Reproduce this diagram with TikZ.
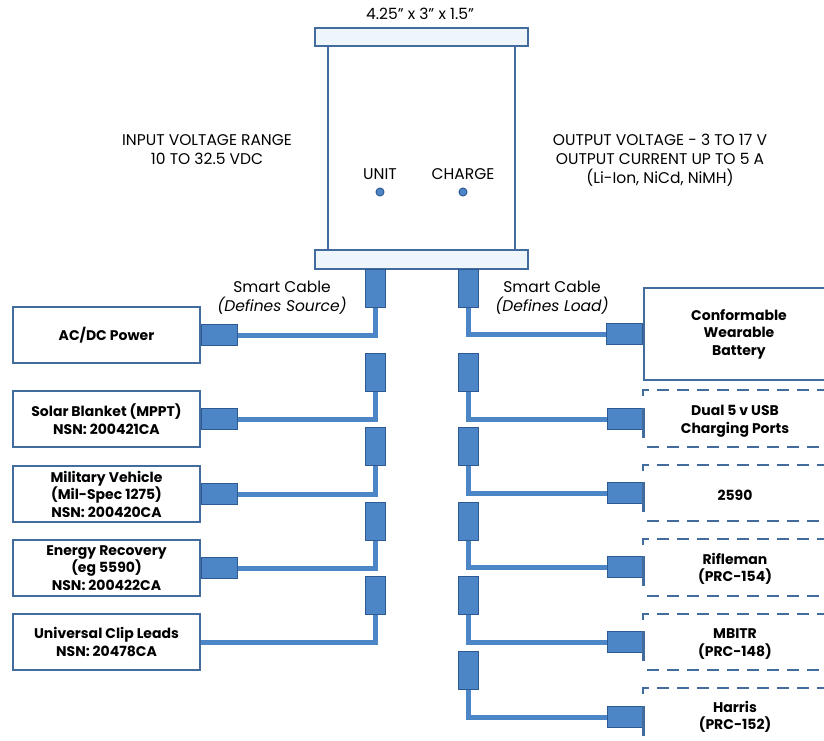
\documentclass[tikz,border=0pt]{standalone}
\usepackage{fontspec}
\setmainfont{Poppins}
\usetikzlibrary{positioning}

\definecolor{edgeblue}{RGB}{66,108,158}
\definecolor{plugblue}{RGB}{76,134,198}
\definecolor{plugedge}{RGB}{46,90,148}
\definecolor{capfill}{RGB}{238,246,252}

\tikzset{
	frame/.style={draw=edgeblue, line width=2.2pt, fill=white, minimum width=187pt, minimum height=56pt, align=center, font=\bfseries\fontsize{14}{17.5}\selectfont},
	note/.style={align=center, font=\fontsize{15.5}{19}\selectfont, inner sep=0pt},
	rowtext/.style={align=center, font=\bfseries\fontsize{14}{17.5}\selectfont, inner sep=0pt},
	hplug/.style={draw=plugedge, fill=plugblue, line width=1pt, minimum width=36pt, minimum height=21pt, inner sep=0pt},
	vplug/.style={draw=plugedge, fill=plugblue, line width=1pt, minimum width=20pt, minimum height=38pt, inner sep=0pt},
	cable/.style={draw=plugblue, line width=5pt},
	capbar/.style={draw=edgeblue, fill=capfill, line width=2pt, minimum width=213pt, inner sep=0pt},
	dashrow/.style={draw=edgeblue, line width=2.5pt, dash pattern=on 12pt off 8pt},
	flange/.style={draw=edgeblue, line width=2.5pt},
	lamp/.style={draw=plugedge, fill=plugblue, line width=1pt, circle, minimum size=8pt, inner sep=0pt},
}

\begin{document}
\begin{tikzpicture}[x=1pt,y=-1pt]
	\useasboundingbox (0,0) rectangle (824,740);

	% the unit
	\draw[draw=edgeblue, line width=2.4pt, fill=white] (328,40) rectangle (515,255);
	\node[capbar, minimum height=18pt] (top) at (421.5,37) {};
	\node[capbar, minimum height=19pt] (bottom) at (421.5,259.5) {};
	\node[note] (size) at (420,14) {4.25” x 3” x 1.5”};

	\node[lamp] (unitlamp)   at (380,192) {};
	\node[lamp] (chargelamp) at (463,192) {};
	\node[note, above=8pt of unitlamp]   (unit)   {UNIT};
	\node[note, above=8pt of chargelamp] (charge) {CHARGE};

	\node[note] (input)  at (207,150) {INPUT VOLTAGE RANGE\\10 TO 32.5 VDC};
	\node[note] (output) at (660,160) {OUTPUT VOLTAGE - 3 TO 17 V\\OUTPUT CURRENT UP TO 5 A\\(Li-Ion, NiCd, NiMH)};

	\node[note] (srccable)  at (282,298) {Smart Cable\\\textit{(Defines Source)}};
	\node[note] (loadcable) at (552,298) {Smart Cable\\\textit{(Defines Load)}};

	% sources
	\node[frame] (acdc)    at (106.5,335) {AC/DC Power};
	\node[frame] (solar)   at (106.5,419) {Solar Blanket (MPPT)\\NSN: 200421CA};
	\node[frame] (vehicle) at (106.5,494) {Military Vehicle\\(Mil-Spec 1275)\\NSN: 200420CA};
	\node[frame] (energy)  at (106.5,568) {Energy Recovery\\(eg 5590)\\NSN: 200422CA};
	\node[frame] (clip)    at (106.5,642) {Universal Clip Leads\\NSN: 20478CA};

	\node[hplug, right=0pt of acdc]    (acdcplug)    {};
	\node[hplug, right=0pt of solar]   (solarplug)   {};
	\node[hplug, right=0pt of vehicle] (vehicleplug) {};
	\node[hplug, right=0pt of energy]  (energyplug)  {};

	\node[vplug] (S1) at (375,288) {};
	\node[vplug] (S2) at (375,372) {};
	\node[vplug] (S3) at (375,446) {};
	\node[vplug] (S4) at (375,521) {};
	\node[vplug] (S5) at (375,595) {};

	\draw[cable] (S1.south) |- (acdcplug.east);
	\draw[cable] (S2.south) |- (solarplug.east);
	\draw[cable] (S3.south) |- (vehicleplug.east);
	\draw[cable] (S4.south) |- (energyplug.east);
	\draw[cable] (S5.south) |- (clip.east);

	% loads
	\node[frame, minimum width=190pt, minimum height=92pt, line width=2.6pt] (battery) at (739,334) {Conformable\\Wearable\\Battery};
	\node[hplug, left=0pt of battery] (batteryplug) {};

	\draw[dashrow] (643,396) -- (643,390) -- (824,390);
	\draw[dashrow] (647,447) -- (824,447);
	\draw[dashrow] (643,471) -- (643,465) -- (824,465);
	\draw[dashrow] (647,521) -- (824,521);
	\draw[dashrow] (643,545) -- (643,539) -- (824,539);
	\draw[dashrow] (647,596) -- (824,596);
	\draw[dashrow] (643,620) -- (643,614) -- (824,614);
	\draw[dashrow] (647,670) -- (824,670);
	\draw[dashrow] (643,694) -- (643,688) -- (824,688);

	\node[rowtext] (usb)      at (735,421) {Dual 5 v USB\\Charging Ports};
	\node[rowtext] (bb)       at (735,495) {2590};
	\node[rowtext] (rifleman) at (735,569) {Rifleman\\(PRC-154)};
	\node[rowtext] (mbitr)    at (735,644) {MBITR\\(PRC-148)};
	\node[rowtext] (harris)   at (735,717) {Harris\\(PRC-152)};

	\node[hplug] (usbplug)      at (625,419) {};
	\node[hplug] (bbplug)       at (625,493) {};
	\node[hplug] (riflemanplug) at (625,567) {};
	\node[hplug] (mbitrplug)    at (625,642) {};
	\node[hplug] (harrisplug)   at (625,717) {};

	\draw[flange] (usbplug.north east)      -- ++(0,30);
	\draw[flange] (bbplug.north east)       -- ++(0,30);
	\draw[flange] (riflemanplug.north east) -- ++(0,30);
	\draw[flange] (mbitrplug.north east)    -- ++(0,30);
	\draw[flange] (harrisplug.north east)   -- ++(0,30);

	\node[vplug] (L1) at (468,288) {};
	\node[vplug] (L2) at (468,372) {};
	\node[vplug] (L3) at (468,446) {};
	\node[vplug] (L4) at (468,521) {};
	\node[vplug] (L5) at (468,595) {};
	\node[vplug] (L6) at (468,670) {};

	\draw[cable] (L1.south) |- (batteryplug.west);
	\draw[cable] (L2.south) |- (usbplug.west);
	\draw[cable] (L3.south) |- (bbplug.west);
	\draw[cable] (L4.south) |- (riflemanplug.west);
	\draw[cable] (L5.south) |- (mbitrplug.west);
	\draw[cable] (L6.south) |- (harrisplug.west);
\end{tikzpicture}
\end{document}
